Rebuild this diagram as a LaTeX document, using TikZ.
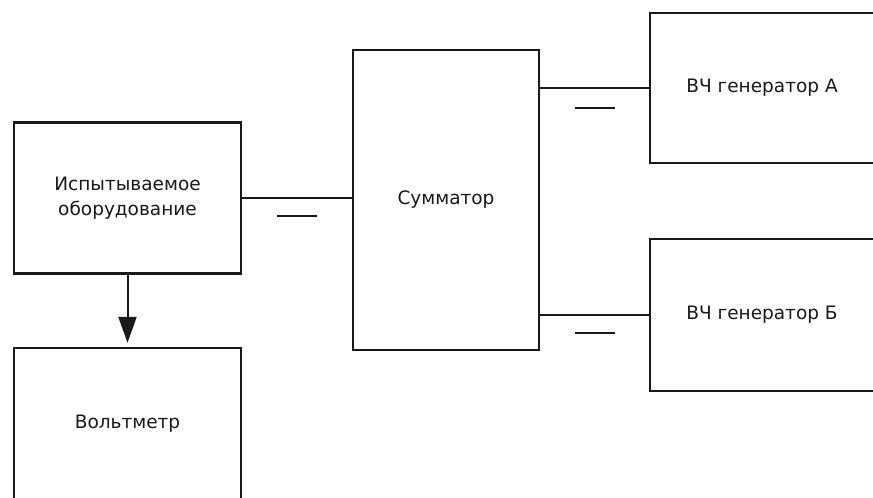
\documentclass[tikz,border=0pt]{standalone}
\usepackage{fontspec}
\setmainfont{DejaVu Sans}
\usetikzlibrary{arrows.meta}
\begin{document}
\begin{tikzpicture}[x=1pt,y=-1pt,
  blockbox/.style={draw=black!90,line width=2.4pt,fill=white,inner sep=0pt,
    font=\fontsize{18.5}{25}\selectfont,align=center,text=black!90},
  wire/.style={draw=black!90,line width=2pt}]
\clip (0,0) rectangle (873,498);
\fill[white] (0,0) rectangle (873,498);
\node[blockbox,minimum width=227pt,minimum height=151pt] (dut) at (127.5,198) {Испытываемое\\оборудование};
\node[blockbox,minimum width=227pt,minimum height=152pt] (volt) at (127.5,424) {Вольтметр};
\node[blockbox,minimum width=186pt,minimum height=300pt] (sum) at (446,200) {Сумматор};
\node[blockbox,minimum width=224pt,minimum height=150pt] (genA) at (762,88) {ВЧ генератор А};
\node[blockbox,minimum width=224pt,minimum height=152pt] (genB) at (762,315) {ВЧ генератор Б};
\path[wire] (dut.east) -- coordinate[pos=0.5] (m1) (dut.east -| sum.west);
\path[wire] (genA.west -| sum.east) -- coordinate[pos=0.5] (m2) (genA.west);
\path[wire] (genB.west -| sum.east) -- coordinate[pos=0.5] (m3) (genB.west);
\draw[wire] ([shift={(-20,18)}]m1) -- ([shift={(20,18)}]m1);
\draw[wire] ([shift={(-20,20)}]m2) -- ([shift={(20,20)}]m2);
\draw[wire] ([shift={(-20,18)}]m3) -- ([shift={(20,18)}]m3);
\draw[wire,-{Triangle[width=18pt,length=26pt]},shorten >=4pt] (dut.south) -- (volt.north);
\end{tikzpicture}
\end{document}
